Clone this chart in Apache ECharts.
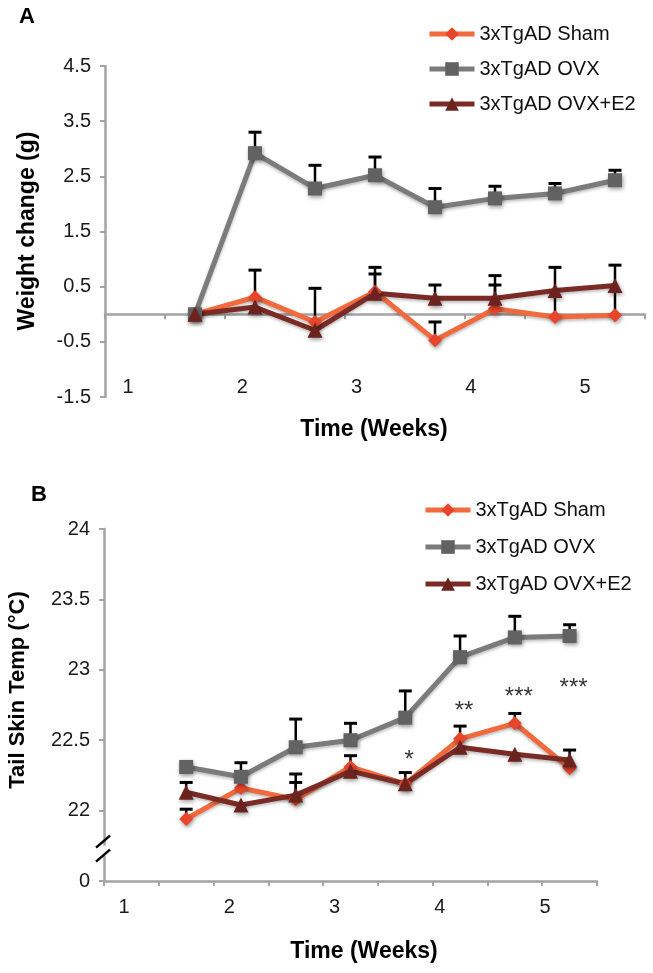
<!DOCTYPE html>
<html>
<head>
<meta charset="utf-8">
<script src="https://cdn.jsdelivr.net/npm/echarts@6/dist/echarts.min.js"></script>
<style>
html,body{margin:0;padding:0;background:#fff;}
#c{width:653px;height:973px;}
</style>
</head>
<body>
<div id="c"></div>
<script>
// ---------- data ----------
const seriesNames = ['3xTgAD Sham', '3xTgAD OVX', '3xTgAD OVX+E2'];
// measurement slots on the category axis (slot 0 is empty, as in the original)
const slots = ['', 't1', 't2', 't3', 't4', 't5', 't6', 't7', 't8'];
const weekTicks = [1, 2, 3, 4, 5];

// Panel A: weight change (g)
const shamA = [0, 0.31, -0.14, 0.41, -0.47, 0.10, -0.05, -0.02];
const shamAErr = [null, 0.49, 0.61, 0.44, 0.33, 0.60, 0.90, 0.91];
const ovxA = [0, 2.92, 2.28, 2.52, 1.94, 2.10, 2.19, 2.43];
const ovxAErr = [null, 0.38, 0.42, 0.33, 0.34, 0.22, 0.18, 0.18];
const e2A = [0, 0.13, -0.29, 0.38, 0.29, 0.29, 0.43, 0.52];
const e2AErr = [null, null, null, 0.35, 0.24, 0.24, null, null];
const yTicksA = [-1.5, -0.5, 0.5, 1.5, 2.5, 3.5, 4.5];

// Panel B: tail skin temperature (°C)
const shamB = [21.94, 22.16, 22.08, 22.31, 22.19, 22.51, 22.62, 22.30];
const shamBErr = [0.07, null, 0.12, null, 0.08, 0.09, 0.07, null];
const ovxB = [22.31, 22.24, 22.45, 22.50, 22.66, 23.09, 23.23, 23.24];
const ovxBErr = [null, 0.10, 0.20, 0.12, 0.19, 0.15, 0.15, 0.08];
const e2B = [22.13, 22.04, 22.11, 22.28, 22.19, 22.45, 22.40, 22.36];
const e2BErr = [0.07, null, 0.15, 0.11, null, null, null, 0.07];
const sigSlots = [5, 6, 7, 8];
const sigY = [22.37, 22.72, 22.82, 22.88];
const sigText = ['*', '**', '***', '***'];

// ---------- styling ----------
const FONT = '"Liberation Sans", Arial, Helvetica, sans-serif';
const AXIS_GREY = '#a3a3a3';
const colors = {
  sham: {line: '#f06a3e', mark: '#e8452b'},
  ovx: {line: '#7b7b7b', mark: '#626262'},
  e2: {line: '#7a2b26', mark: '#6c231f'}
};

function lineData(vals) { return [null].concat(vals); }
function errData(vals, errs) {
  const out = [];
  vals.forEach((v, i) => { if (errs[i] != null) out.push([i + 1, v, errs[i]]); });
  return out;
}
function errRender(params, api) {
  const x = api.value(0), y = api.value(1), e = api.value(2);
  const p0 = api.coord([x, y]);
  const p1 = api.coord([x, y + e]);
  return {
    type: 'group',
    children: [
      {type: 'line', shape: {x1: p0[0], y1: p0[1], x2: p1[0], y2: p1[1]}, style: {stroke: '#000', lineWidth: 2.5}},
      {type: 'line', shape: {x1: p1[0] - 6.5, y1: p1[1], x2: p1[0] + 6.5, y2: p1[1]}, style: {stroke: '#000', lineWidth: 3}}
    ]
  };
}
function lineSeries(name, key, symbol, size, data, g) {
  return {
    name: name, type: 'line', xAxisIndex: g * 2, yAxisIndex: g,
    data: lineData(data), symbol: symbol, symbolSize: size,
    showAllSymbol: true, z: 3,
    lineStyle: {color: colors[key].line, width: 5, shadowBlur: 3, shadowColor: 'rgba(0,0,0,0.25)', shadowOffsetY: 2},
    itemStyle: {color: colors[key].mark, shadowBlur: 4, shadowColor: 'rgba(0,0,0,0.4)', shadowOffsetX: 1, shadowOffsetY: 2},
    emphasis: {disabled: true}
  };
}
function errSeries(vals, errs, g) {
  return {
    type: 'custom', xAxisIndex: g * 2, yAxisIndex: g, z: 2,
    data: errData(vals, errs), encode: {x: 0, y: 1}, renderItem: errRender, silent: true
  };
}

const gridA = {left: 105, top: 66, width: 540, height: 331};
const gridB = {left: 104, top: 529, width: 493, height: 352};

const tickLabel = {color: '#1a1a1a', fontSize: 20, fontFamily: FONT};
const axisLine = {lineStyle: {color: AXIS_GREY, width: 2.5}};
const legendBase = {
  data: seriesNames, orient: 'vertical', itemWidth: 45, itemHeight: 17,
  textStyle: {fontSize: 20, lineHeight: 20, color: '#111', fontFamily: FONT},
  lineStyle: {width: 5}, selectedMode: false
};

const chart = echarts.init(document.getElementById('c'), null, {renderer: 'canvas'});
const option = {
  animation: false,
  backgroundColor: '#fff',
  grid: [gridA, gridB],
  xAxis: [
    {gridIndex: 0, type: 'category', data: slots, boundaryGap: true,
      axisLine: {onZero: true, lineStyle: {color: AXIS_GREY, width: 2.5}},
      axisTick: {show: true, interval: 0, length: 5, lineStyle: {color: AXIS_GREY, width: 2}},
      axisLabel: {show: false}, splitLine: {show: false}},
    {gridIndex: 0, type: 'value', min: 0.7987, max: 5.525, position: 'bottom', offset: -22,
      axisLine: {show: false}, axisTick: {show: false}, splitLine: {show: false},
      axisLabel: Object.assign({customValues: weekTicks, margin: 2}, tickLabel)},
    {gridIndex: 1, type: 'category', data: slots, boundaryGap: true,
      axisLine: {onZero: false, lineStyle: {color: AXIS_GREY, width: 2.5}},
      axisTick: {show: true, interval: 0, length: 5, lineStyle: {color: AXIS_GREY, width: 2}},
      axisLabel: {show: false}, splitLine: {show: false}},
    {gridIndex: 1, type: 'value', min: 0.81, max: 5.494, position: 'bottom',
      axisLine: {show: false}, axisTick: {show: false}, splitLine: {show: false},
      axisLabel: Object.assign({customValues: weekTicks, margin: 16}, tickLabel)}
  ],
  yAxis: [
    {gridIndex: 0, type: 'value', min: -1.5, max: 4.5,
      axisLine: Object.assign({show: true}, axisLine),
      axisTick: {show: true, customValues: yTicksA, length: 5, lineStyle: {color: AXIS_GREY, width: 2}},
      axisLabel: Object.assign({customValues: yTicksA, margin: 14, formatter: v => String(v)}, tickLabel),
      splitLine: {show: false}},
    {gridIndex: 1, type: 'value', min: 21.5, max: 24, interval: 0.5,
      axisLine: Object.assign({show: true}, axisLine),
      axisTick: {show: true, length: 5, lineStyle: {color: AXIS_GREY, width: 2}},
      axisLabel: Object.assign({margin: 14, formatter: v => (v === 21.5 ? '0' : String(v))}, tickLabel),
      splitLine: {show: false}}
  ],
  legend: [
    Object.assign({left: 422, top: 19, itemGap: 15}, legendBase),
    Object.assign({left: 418, top: 495, itemGap: 17}, legendBase)
  ],
  series: [
    errSeries(shamA, shamAErr, 0), errSeries(ovxA, ovxAErr, 0), errSeries(e2A, e2AErr, 0),
    lineSeries(seriesNames[0], 'sham', 'diamond', 14, shamA, 0),
    lineSeries(seriesNames[1], 'ovx', 'rect', 14, ovxA, 0),
    lineSeries(seriesNames[2], 'e2', 'triangle', 15, e2A, 0),
    errSeries(shamB, shamBErr, 1), errSeries(ovxB, ovxBErr, 1), errSeries(e2B, e2BErr, 1),
    lineSeries(seriesNames[0], 'sham', 'diamond', 14, shamB, 1),
    lineSeries(seriesNames[1], 'ovx', 'rect', 14, ovxB, 1),
    lineSeries(seriesNames[2], 'e2', 'triangle', 15, e2B, 1),
    {type: 'scatter', name: 'sig', xAxisIndex: 2, yAxisIndex: 1, symbolSize: 0, z: 5,
      data: sigSlots.map((s, i) => ({value: [s, sigY[i]], label: {formatter: sigText[i]}})),
      label: {show: true, position: 'inside', fontSize: 24, color: '#000', fontFamily: FONT, offset: [4, 2]},
      silent: true}
  ],
  graphic: []
};
chart.setOption(option);

// decorations: panel letters, axis titles, axis break
const yb1 = chart.convertToPixel({yAxisIndex: 1}, 21.78);
const yb2 = chart.convertToPixel({yAxisIndex: 1}, 21.68);
const ax = gridB.left;
const titleStyle = (size) => ({fontSize: size, fontWeight: 'bold', fontFamily: FONT, fill: '#000'});
chart.setOption({graphic: [
  {type: 'text', left: 19, top: 6, style: Object.assign({text: 'A'}, titleStyle(22))},
  {type: 'text', left: 31, top: 484, style: Object.assign({text: 'B'}, titleStyle(22))},
  {type: 'text', x: 28, y: 231, rotation: Math.PI / 2,
    style: Object.assign({text: 'Weight change (g)', align: 'center', verticalAlign: 'middle'}, titleStyle(23))},
  {type: 'text', x: 374, y: 430,
    style: Object.assign({text: 'Time (Weeks)', align: 'center', verticalAlign: 'middle'}, titleStyle(23))},
  {type: 'text', x: 18, y: 690, rotation: Math.PI / 2,
    style: Object.assign({text: 'Tail Skin Temp (°C)', align: 'center', verticalAlign: 'middle'}, titleStyle(22))},
  {type: 'text', x: 364, y: 952,
    style: Object.assign({text: 'Time (Weeks)', align: 'center', verticalAlign: 'middle'}, titleStyle(23))},
  {type: 'rect', shape: {x: ax - 3, y: yb1 + 4, width: 6, height: (yb2 - yb1) - 4}, style: {fill: '#fff'}, z: 100},
  {type: 'line', shape: {x1: ax - 8, y1: yb1 + 6, x2: ax + 6, y2: yb1 - 6}, style: {stroke: '#000', lineWidth: 2.5}, z: 101},
  {type: 'line', shape: {x1: ax - 8, y1: yb2 + 6, x2: ax + 6, y2: yb2 - 6}, style: {stroke: '#000', lineWidth: 2.5}, z: 101}
]});
</script>
</body>
</html>
